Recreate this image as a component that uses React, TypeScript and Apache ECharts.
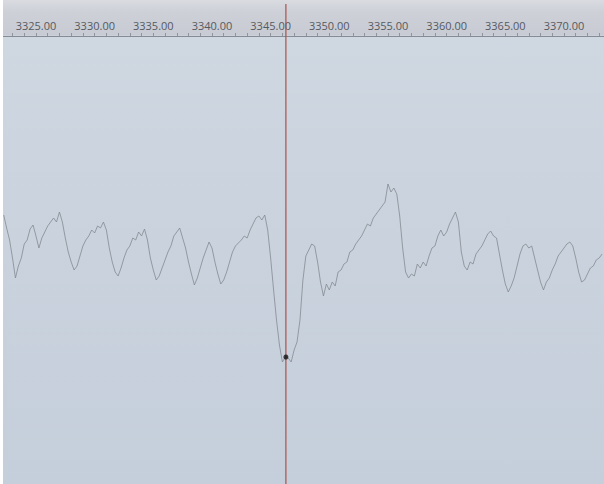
import React, { useEffect, useRef } from "react";
import * as echarts from "echarts";

// Sampling grid of the trace (time axis)
const startX = 3322.25;
const stepX = 0.25;
// Trace amplitude, one value per sample
const amplitude = [
  269, 256, 244, 226, 206, 218, 226, 240, 244, 255, 259, 248, 236, 246, 252, 258, 262, 266, 262, 272,
  262, 246, 232, 222, 214, 218, 228, 238, 244, 248, 254, 251, 258, 256, 262, 254, 236, 222, 212, 208,
  216, 226, 234, 238, 246, 244, 252, 248, 255, 244, 226, 214, 204, 208, 216, 224, 232, 238, 248, 252,
  256, 246, 236, 222, 210, 199, 206, 216, 226, 234, 242, 236, 222, 210, 200, 204, 212, 222, 232, 238,
  241, 244, 248, 246, 254, 260, 266, 268, 264, 269, 254, 226, 194, 164, 139, 122, 127, 126, 122, 134,
  142, 164, 204, 228, 234, 240, 238, 222, 202, 188, 200, 194, 202, 198, 212, 214, 220, 222, 232, 234,
  240, 244, 248, 254, 260, 258, 266, 270, 274, 278, 282, 300, 292, 296, 290, 268, 236, 212, 206, 210,
  208, 220, 216, 222, 218, 228, 236, 238, 248, 254, 248, 252, 260, 266, 272, 262, 232, 218, 214, 222,
  220, 230, 234, 238, 244, 250, 253, 248, 246, 230, 214, 200, 192, 198, 206, 218, 230, 238, 240, 236,
  238, 226, 214, 202, 194, 202, 206, 214, 220, 228, 232, 236, 240, 242, 238, 226, 212, 202, 204, 210,
  216, 218, 224, 226, 230,
];
const traceTimes = amplitude.map((_, i) => startX + i * stepX);

// Cursor and marker
const cursorX = 3346.3;
const markerY = 127;

// Axis
const axisMin = 3322.19;
const axisMax = 3373.41;
const tickLabels = [3325, 3330, 3335, 3340, 3345, 3350, 3355, 3360, 3365, 3370];
const minorTicks = [
  3323, 3324, 3325, 3326, 3327, 3328, 3329, 3330, 3331, 3332, 3333, 3334, 3335, 3336, 3337, 3338, 3339,
  3340, 3341, 3342, 3343, 3344, 3345, 3346, 3347, 3348, 3349, 3350, 3351, 3352, 3353, 3354, 3355, 3356,
  3357, 3358, 3359, 3360, 3361, 3362, 3363, 3364, 3365, 3366, 3367, 3368, 3369, 3370, 3371, 3372, 3373,
];

export default function App() {
  const ref = useRef<HTMLDivElement>(null);

  useEffect(() => {
    if (!ref.current) return;
    const chart = echarts.init(ref.current, null, { renderer: "svg" });
    chart.setOption({
      animation: false,
      grid: { left: 0, right: 0, top: 36, bottom: 0 },
      xAxis: {
        type: "value",
        position: "top",
        min: axisMin,
        max: axisMax,
        splitLine: { show: false },
        axisLine: { show: true, onZero: false, lineStyle: { color: "#868c95", width: 1 } },
        axisTick: {
          show: true,
          customValues: minorTicks,
          length: 3,
          lineStyle: { color: "#8f959e", width: 1 },
        },
        axisLabel: {
          customValues: tickLabels,
          formatter: (v: number) => v.toFixed(2),
          color: "#555962",
          fontFamily: "Open Sans",
          fontSize: 11,
          margin: 5,
        },
      },
      yAxis: { type: "value", min: 0, max: 448, show: false },
      series: [
        {
          type: "line",
          data: traceTimes.map((t, i) => [t, amplitude[i]]),
          symbol: "none",
          lineStyle: { color: "#858a92", width: 0.8 },
          z: 2,
        },
        {
          type: "scatter",
          data: [[cursorX, markerY]],
          symbolSize: 5,
          itemStyle: { color: "#111111" },
          z: 5,
        },
      ],
    });
    const px = chart.convertToPixel({ xAxisIndex: 0 }, cursorX) as number;
    chart.setOption({
      graphic: [
        {
          type: "line",
          shape: { x1: px, y1: 4, x2: px, y2: 484 },
          style: { stroke: "#a9524c", lineWidth: 1.2 },
          z: 4,
        },
      ],
    });
    return () => chart.dispose();
  }, []);

  return (
    <div
      style={{
        position: "fixed",
        left: 0,
        top: 0,
        width: 604,
        height: 484,
        background: "#ffffff",
      }}
    >
      <div
        ref={ref}
        style={{
          position: "absolute",
          left: 3,
          top: 0,
          width: 601,
          height: 484,
          background:
            "linear-gradient(to bottom, #d9dbe1 0px, #cdd0d7 12px, #c8cbd3 35px, #cfd7e1 36px, #c9d2dd 250px, #c5cfdb 484px)",
        }}
      />
    </div>
  );
}
